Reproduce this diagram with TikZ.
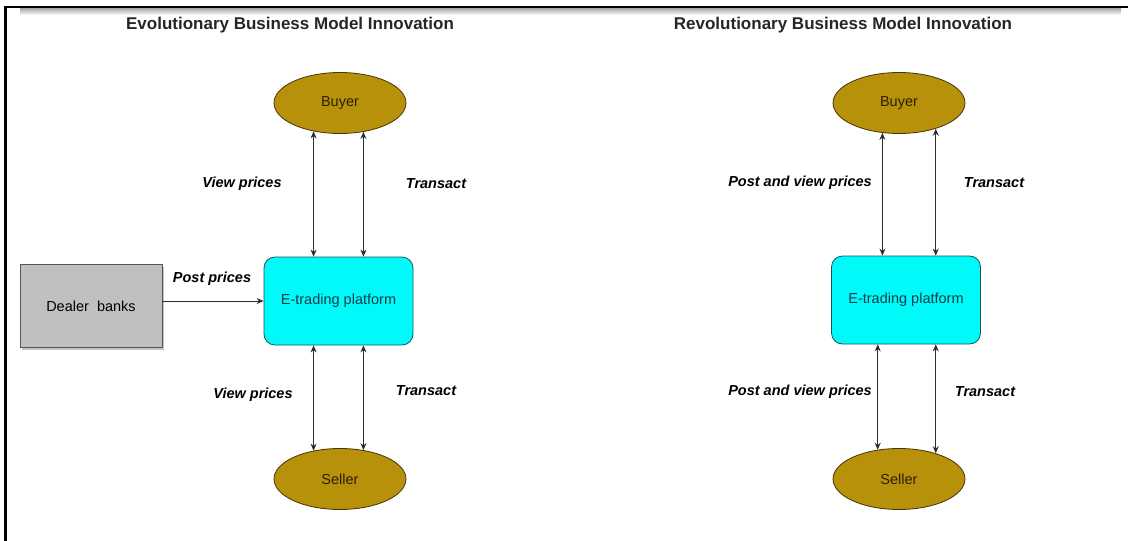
\documentclass[tikz,border=0pt]{standalone}
\usepackage{fontspec}
\setmainfont{Liberation Sans}
\usetikzlibrary{shapes.geometric,shadows,arrows.meta}

\definecolor{gold}{RGB}{184,145,11}
\definecolor{goldline}{RGB}{70,50,5}
\definecolor{goldtext}{RGB}{45,32,0}
\definecolor{platcyan}{RGB}{0,250,250}
\definecolor{platline}{RGB}{25,85,90}
\definecolor{plattext}{RGB}{20,60,70}
\definecolor{bankgray}{RGB}{192,192,192}
\definecolor{bankline}{RGB}{85,85,85}
\definecolor{arrowgray}{RGB}{45,45,45}

\tikzset{
  party/.style={draw=goldline, fill=gold, ellipse, line width=0.8pt,
    minimum width=132pt, minimum height=61pt, inner sep=0pt,
    text=goldtext, font=\fontsize{14.5}{17}\selectfont},
  platform/.style={draw=platline, fill=platcyan, rectangle, rounded corners=11pt,
    line width=0.8pt, minimum width=149pt, minimum height=88pt,
    text=plattext, font=\fontsize{14.5}{17}\selectfont},
  bank/.style={draw=bankline, fill=bankgray, rectangle, line width=0.8pt,
    minimum width=142pt, minimum height=83pt,
    drop shadow={shadow xshift=2pt, shadow yshift=-2pt, opacity=0.45},
    font=\fontsize{14.5}{17}\selectfont},
  flowlabel/.style={font=\bfseries\itshape\fontsize{14.5}{17}\selectfont},
  headline/.style={font=\bfseries\fontsize{17}{20}\selectfont, text=black!85},
  link/.style={<->, >={Stealth[length=7pt,width=6pt]}, draw=arrowgray, line width=1pt},
}

\begin{document}
\begin{tikzpicture}[x=1pt, y=-1pt]
  \useasboundingbox (0,0) rectangle (1128,541);
  % frame
  \shade[top color=black!35, bottom color=white] (20,8) rectangle (1121,15);
  \draw[line width=2.6pt] (5.5,541) -- (5.5,7) -- (1128,7);

  % titles
  \node[headline] (TL) at (290,25) {Evolutionary Business Model Innovation};
  \node[headline] (TR) at (843,25) {Revolutionary Business Model Innovation};

  % evolutionary side
  \node[party] (BuyerL) at (340,103) {Buyer};
  \node[platform] (PlatL) at (338.5,301) {E-trading platform};
  \node[bank] (DealerL) at (91,306) {Dealer\ \ banks};
  \node[party] (SellerL) at (340,479) {Seller};

  \draw[link] (PlatL.north -| BuyerL.-133) -- (BuyerL.-133);
  \draw[link] (PlatL.north -| BuyerL.-51) -- (BuyerL.-51);
  \draw[link] (PlatL.south -| SellerL.133) -- (SellerL.133);
  \draw[link] (PlatL.south -| SellerL.51) -- (SellerL.51);
  \draw[link, <-] (PlatL.west) -- (PlatL.west -| DealerL.east);

  \node[flowlabel] (vpL1) at (242,184) {View prices};
  \node[flowlabel] (trL1) at (436,184) {Transact};
  \node[flowlabel] (ppL) at (212,279) {Post prices};
  \node[flowlabel] (vpL2) at (253,395) {View prices};
  \node[flowlabel] (trL2) at (426,391) {Transact};

  % revolutionary side
  \node[party] (BuyerR) at (899,103) {Buyer};
  \node[platform] (PlatR) at (906,300) {E-trading platform};
  \node[party] (SellerR) at (899,479) {Seller};

  \draw[link] (PlatR.north -| BuyerR.-119) -- (BuyerR.-119);
  \draw[link] (PlatR.north -| BuyerR.-35) -- (BuyerR.-35);
  \draw[link] (PlatR.south -| SellerR.126) -- (SellerR.126);
  \draw[link] (PlatR.south -| SellerR.35) -- (SellerR.35);

  \node[flowlabel] (pvR1) at (800,183) {Post and view prices};
  \node[flowlabel] (trR1) at (994,183) {Transact};
  \node[flowlabel] (pvR2) at (800,392) {Post and view prices};
  \node[flowlabel] (trR2) at (985,392) {Transact};
\end{tikzpicture}
\end{document}
